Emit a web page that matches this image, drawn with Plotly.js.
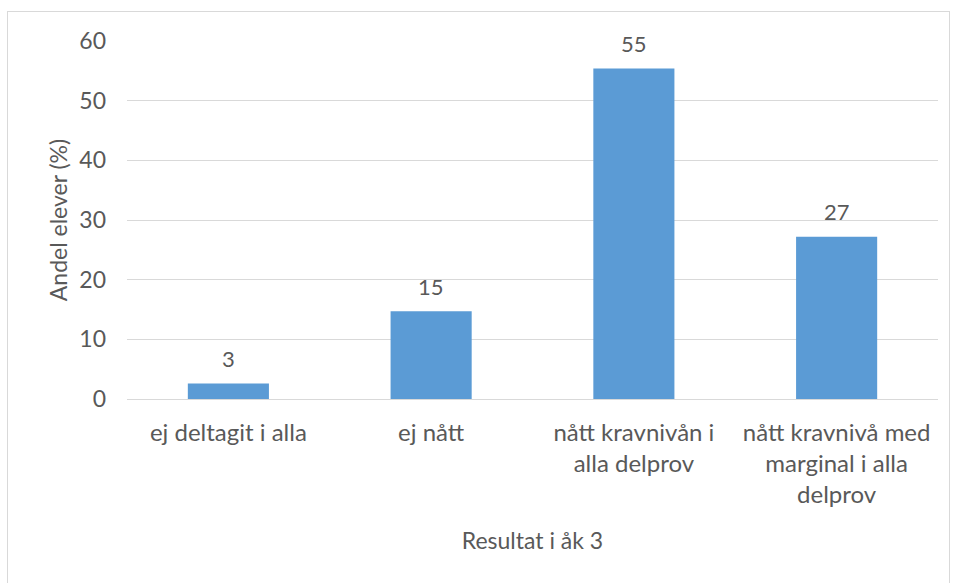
<!DOCTYPE html>
<html>
<head>
<meta charset="utf-8">
<script src="https://cdn.plot.ly/plotly-3.0.1.min.js"></script>
<style>
html,body{margin:0;padding:0;background:#fff;}
#frame{position:absolute;left:7px;top:11px;width:943px;height:575px;border:1px solid #d9d9d9;box-sizing:border-box;}
#chart{position:absolute;left:0;top:0;width:957px;height:583px;}
</style>
</head>
<body>
<div id="frame"></div>
<div id="chart"></div>
<script>
const categories = [
  "ej deltagit i alla",
  "ej nått",
  "nått kravnivån i<br>alla delprov",
  "nått kravnivå med<br>marginal i alla<br>delprov"
];
const values = [2.6, 14.7, 55.4, 27.2];
const valueLabels = ["3", "15", "55", "27"];
const yTicks = [0, 10, 20, 30, 40, 50, 60];

const font = "Lato, 'Open Sans', sans-serif";
const grey = "#595959";

const labelAnnotations = categories.map((c, i) => ({
  x: c,
  y: values[i],
  xref: "x",
  yref: "y",
  text: valueLabels[i],
  showarrow: false,
  yanchor: "middle",
  yshift: 25,
  font: {family: font, size: 22, color: grey}
}));

Plotly.newPlot("chart", [{
  type: "bar",
  x: categories,
  y: values,
  marker: {color: "#5b9bd5"},
  hoverinfo: "none"
}], {
  width: 957,
  height: 583,
  margin: {l: 127, r: 19, t: 41, b: 184},
  paper_bgcolor: "rgba(0,0,0,0)",
  plot_bgcolor: "rgba(0,0,0,0)",
  bargap: 0.6,
  showlegend: false,
  font: {family: font, color: grey},
  annotations: labelAnnotations,
  xaxis: {
    type: "category",
    tickfont: {family: font, size: 24, color: grey},
    ticks: "",
    ticklabelstandoff: 17,
    showline: false,
    title: {text: "Resultat i åk 3", font: {family: font, size: 23, color: grey}, standoff: 25}
  },
  yaxis: {
    range: [0, 60],
    tickvals: yTicks,
    ticktext: yTicks.map(String),
    tickfont: {family: font, size: 23, color: grey},
    gridcolor: "#d9d9d9",
    gridwidth: 1,
    zeroline: true,
    zerolinecolor: "#d9d9d9",
    zerolinewidth: 1,
    ticks: "",
    ticklabelstandoff: 20,
    showline: false,
    title: {text: "Andel elever (%)", font: {family: font, size: 23, color: grey}, standoff: 5}
  }
}, {displayModeBar: false, staticPlot: true});
</script>
</body>
</html>
